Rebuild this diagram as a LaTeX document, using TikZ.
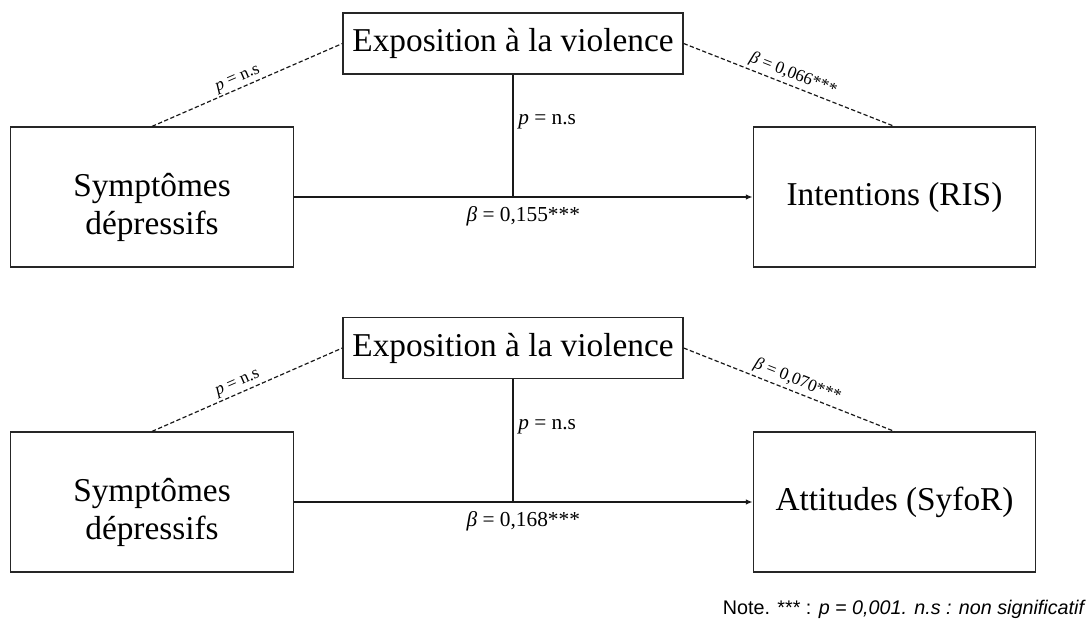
\documentclass[tikz,border=0pt]{standalone}
\usepackage{fontspec}
\setmainfont{Liberation Serif}
\newfontfamily\notefont{Liberation Sans}
\usetikzlibrary{arrows.meta,calc}
\newcommand{\lowstrut}{\rule{0pt}{33pt}}
\begin{document}
\begin{tikzpicture}[x=0.75pt,y=-0.75pt,
  box/.style={draw=black!85,line width=0.9pt,rectangle,inner sep=0pt,align=center,font=\fontsize{25}{29}\selectfont},
  expbox/.style={box,minimum width=255pt,minimum height=45.75pt},
  bigbox/.style={box,minimum width=212pt,minimum height=105pt},
  dashline/.style={draw=black!90,line width=0.9pt,dash pattern=on 3.2pt off 1.8pt},
  solidline/.style={draw=black!90,line width=0.8pt},
  arrowline/.style={solidline,-{Latex[length=5pt,width=4pt]}},
  lbl/.style={font=\fontsize{16}{18}\selectfont,inner sep=0pt},
  slbl/.style={font=\fontsize{13}{15}\selectfont,inner sep=0pt,sloped}]
\useasboundingbox (0,0) rectangle (1088,620);
% ---------- top model ----------
\node[expbox] (e1) at (513,43.5) {Exposition à la violence};
\node[bigbox] (s1) at (152,197) {\lowstrut Symptômes\\dépressifs};
\node[bigbox] (i1) at (894.5,197) {Intentions (RIS)};
\draw[dashline] (s1.north) -- node[slbl,above=1.5pt,pos=0.47] {\textit{p} = n.s} (e1.west);
\draw[dashline] (e1.east) -- node[slbl,above=2pt,pos=0.5] {\textit{β} = 0,066***} (i1.north);
\draw[arrowline] (s1.east) -- node[lbl,below=7pt,pos=0.5] {\textit{β} = 0,155***} (i1.west);
\coordinate (m1) at (e1.south |- s1.east);
\draw[solidline] (e1.south) -- (m1);
\node[lbl,anchor=base west] (p1) at ($(e1.south)+(5,50)$) {\textit{p} = n.s};
% ---------- bottom model ----------
\node[expbox] (e2) at (513,348) {Exposition à la violence};
\node[bigbox] (s2) at (152,502) {\lowstrut Symptômes\\dépressifs};
\node[bigbox] (i2) at (894.5,502) {Attitudes (SyfoR)};
\draw[dashline] (s2.north) -- node[slbl,above=1.5pt,pos=0.47] {\textit{p} = n.s} (e2.west);
\draw[dashline] (e2.east) -- node[slbl,above=2pt,pos=0.52] {\textit{β} = 0,070***} (i2.north);
\draw[arrowline] (s2.east) -- node[lbl,below=7pt,pos=0.5] {\textit{β} = 0,168***} (i2.west);
\coordinate (m2) at (e2.south |- s2.east);
\draw[solidline] (e2.south) -- (m2);
\node[lbl,anchor=base west] (p2) at ($(e2.south)+(5,50)$) {\textit{p} = n.s};
% ---------- note ----------
\node[anchor=base east,inner sep=0pt,font=\notefont\fontsize{14.8}{17}\selectfont] (note) at (1086,614) {Note. *** : \textit{p = 0,001. n.s : non significatif}};
\end{tikzpicture}
\end{document}
